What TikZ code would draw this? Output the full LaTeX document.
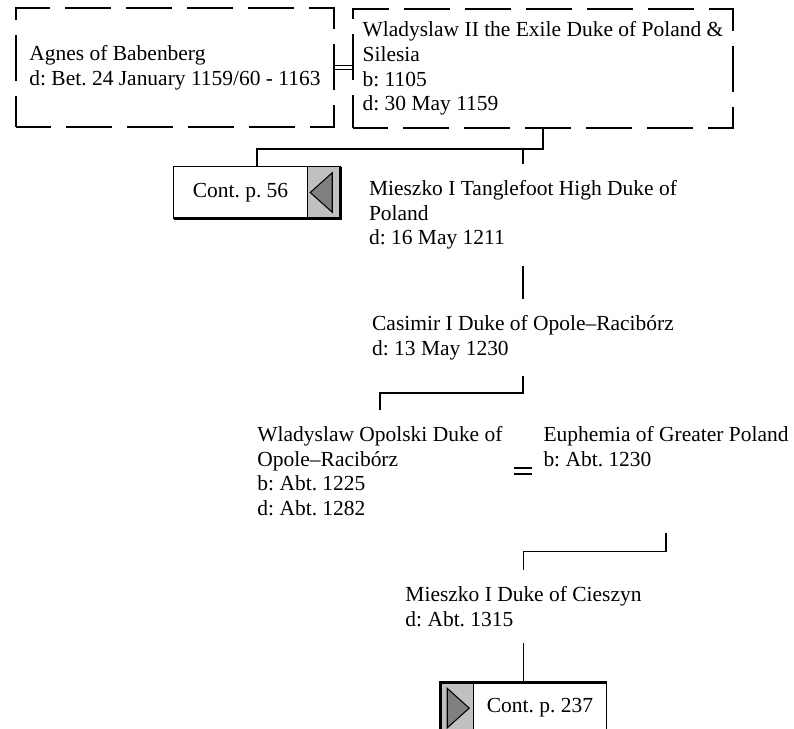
\documentclass[tikz,border=0pt]{standalone}
\usepackage{fontspec}
\setmainfont{Liberation Serif}
\usepackage{xcolor}
\usetikzlibrary{positioning,calc}
\definecolor{panel}{HTML}{C0C0C0}
\definecolor{pointer}{HTML}{808080}
\frenchspacing
\tikzset{
  every node/.style={font=\fontsize{16.1}{18.4}\selectfont},
  spouse/.style={draw,line width=1pt,dash pattern=on 34.5pt off 11.25pt,dash phase=8pt,
    align=left,minimum height=89.25pt,inner sep=0pt},
  person/.style={align=left,inner xsep=8.25pt,inner ysep=12.2pt},
  cont/.style={minimum width=124.5pt,minimum height=38.25pt,inner sep=0pt},
  boxline/.style={line width=1pt},
  heavy/.style={line width=2pt},
  link/.style={line width=1.3pt},
  wed/.style={double,double distance=2pt,line width=0.9pt},
  wedwide/.style={double,double distance=3.5pt,line width=1pt}
}

\begin{document}
\begin{tikzpicture}[x=0.75pt,y=-0.75pt]
 \useasboundingbox (0,0) rectangle (794,729);
 % first couple
 \node[spouse,minimum width=238.5pt] (agnes) at (175,67.5) {Agnes of Babenberg\\d: Bet. 24 January 1159/60 - 1163};
 \node[spouse,minimum width=285pt] (wlad) at (543,68.5) {Wladyslaw II the Exile Duke of Poland \&\\Silesia\\b: 1105\\d: 30 May 1159};
 \draw[wed] (agnes.east) -- (agnes.east -| wlad.west);
 % children
 \node[cont] (cont56) at (257,192.5) {\makebox[99.75pt]{Cont. p. 56}\kern24.75pt};
 \fill[panel] ([xshift=-24.75pt]cont56.north east) rectangle (cont56.south east);
 \filldraw[fill=pointer,line width=0.8pt] ([xshift=-22.5pt]cont56.east) -- ([xshift=-6pt,yshift=-4.5pt]cont56.north east)
   -- ([xshift=-6pt,yshift=4.5pt]cont56.south east) -- cycle;
 \draw[line width=0.8pt] ([xshift=-24.75pt]cont56.north east) -- ([xshift=-24.75pt]cont56.south east);
 \draw[boxline] (cont56.north west) rectangle (cont56.south east);
 \draw[heavy] (cont56.north east) -- (cont56.south east) -- (cont56.south west);
 \node[person] (mieszko) at (523,215) {Mieszko I Tanglefoot High Duke of\\Poland\\d: 16 May 1211};
 \draw[link] (wlad.south) -- ++(0,20) coordinate (bar1) -| (cont56.north);
 \draw[link] (mieszko.north) -- (mieszko.north |- bar1);
 % next generations
 \node[person,below=24.75pt of mieszko] (casimir) {Casimir I Duke of Opole--Racibórz\\d: 13 May 1230};
 \draw[link] (mieszko.south) -- (casimir.north);
 \node[person,anchor=north] (opolski) at (380,410) {Wladyslaw Opolski Duke of\\Opole--Racibórz\\b: Abt. 1225\\d: Abt. 1282};
 \node[person,anchor=north,text depth=38pt] (euph) at (666,410) {Euphemia of Greater Poland\\b: Abt. 1230};
 \draw[link] (casimir.south) -- ++(0,17) -| (opolski.north);
 \draw[wedwide] (opolski.east) -- (opolski.east -| euph.west);
 \node[person,anchor=north] (cieszyn) at (523.5,570) {Mieszko I Duke of Cieszyn\\d: Abt. 1315};
 \draw[link] (euph.south) -- ++(0,18) -| (cieszyn.north);
 \node[cont,below=29.5pt of cieszyn] (cont237) {\kern24.75pt\makebox[99.75pt]{Cont. p. 237}};
 \fill[panel] (cont237.north west) rectangle ([xshift=24.75pt]cont237.south west);
 \filldraw[fill=pointer,line width=0.8pt] ([xshift=21.75pt]cont237.west) -- ([xshift=5.25pt,yshift=-4.5pt]cont237.north west)
   -- ([xshift=5.25pt,yshift=4.5pt]cont237.south west) -- cycle;
 \draw[line width=0.8pt] ([xshift=24.75pt]cont237.north west) -- ([xshift=24.75pt]cont237.south west);
 \draw[boxline] (cont237.north west) rectangle (cont237.south east);
 \draw[heavy] (cont237.south west) -- (cont237.north west) -- (cont237.north east);
 \draw[link] (cieszyn.south) -- (cont237.north);
\end{tikzpicture}
\end{document}
